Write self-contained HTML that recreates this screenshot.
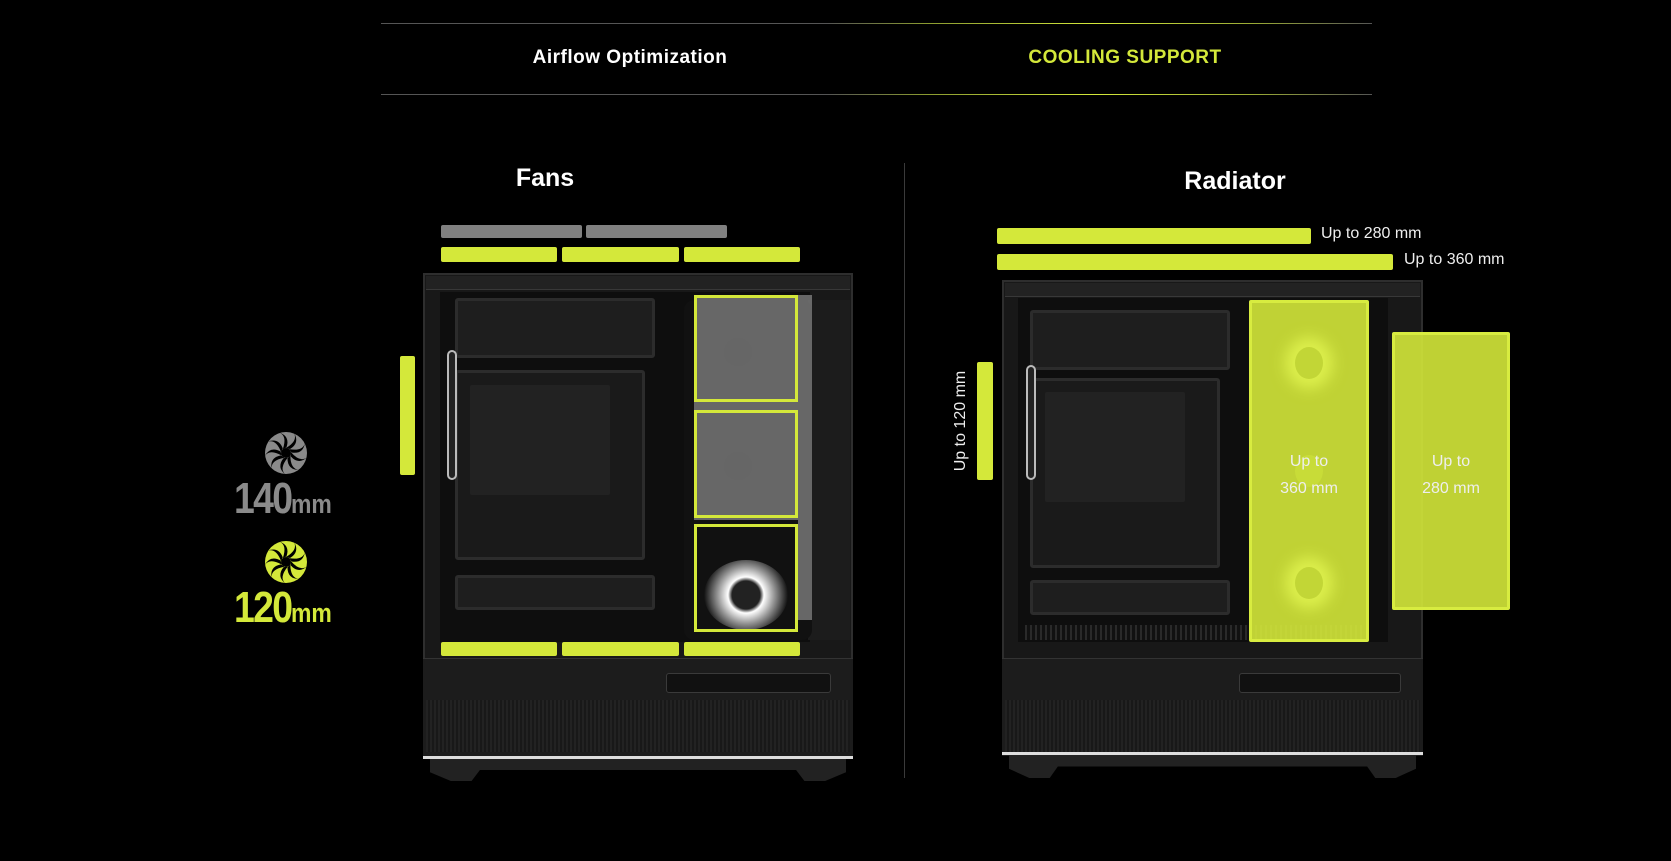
<!DOCTYPE html>
<html><head><meta charset="utf-8"><style>
*{margin:0;padding:0;box-sizing:border-box}
body{width:1671px;height:861px;background:#000;position:relative;overflow:hidden;font-family:"Liberation Sans",sans-serif}
.a{position:absolute}
.y{background:#d4e83a;border-radius:2px}
.g{background:#808080;border-radius:2px}
.t{color:#fff;font-weight:bold;text-align:center}
.case{position:absolute;background:#181818;border:2px solid #2e2e2e}
.int{position:absolute;background:#0e0e0e}
.pl{position:absolute;background:#1e1e1e;border:3px solid #2c2c2c;border-radius:3px}
.hole{position:absolute;background:#0c0c0c;border-radius:2px}
.lbl{color:#eee;font-size:15px;position:absolute;white-space:nowrap}
</style></head><body>
<div class="a" style="left:381px;top:23px;width:991px;height:1px;background:linear-gradient(90deg,#555 0%,#555 45%,#8a9a30 55%,#d4e83a 72%,#9aaa35 88%,#555 100%)"></div>
<div class="a" style="left:381px;top:94px;width:991px;height:1px;background:linear-gradient(90deg,#555 0%,#555 45%,#8a9a30 55%,#d4e83a 72%,#9aaa35 88%,#555 100%)"></div>
<div class="a t" style="left:480px;top:47px;width:300px;font-size:19px;letter-spacing:0.5px">Airflow Optimization</div>
<div class="a t" style="left:975px;top:47px;width:300px;font-size:19px;color:#d4e83a;letter-spacing:0.5px">COOLING SUPPORT</div>
<div class="a" style="left:904px;top:163px;width:1px;height:615px;background:#3a3a3a"></div>
<div class="a t" style="left:445px;top:164px;width:200px;font-size:25px">Fans</div>
<div class="a t" style="left:1135px;top:167px;width:200px;font-size:25px">Radiator</div>

<!-- LEFT CASE -->
<div class="case" style="left:423px;top:273px;width:430px;height:385px;border-bottom:none"></div>
<div class="a" style="left:426px;top:276px;width:424px;height:14px;background:#222;border-bottom:1px solid #383838"></div>
<div class="int" style="left:440px;top:292px;width:370px;height:350px"></div>
<div class="pl" style="left:455px;top:298px;width:200px;height:60px"></div>
<div class="pl" style="left:455px;top:370px;width:190px;height:190px;background:#1a1a1a"></div>
<div class="hole" style="left:470px;top:385px;width:140px;height:110px;background:#222"></div>
<div class="pl" style="left:455px;top:575px;width:200px;height:35px"></div>
<div class="a" style="left:447px;top:350px;width:10px;height:130px;border:2px solid #bbb;border-radius:6px;background:#222"></div>
<div class="a" style="left:808px;top:300px;width:42px;height:340px;background:#1c1c1c"></div>
<div class="a" style="left:684px;top:300px;width:128px;height:340px;background:#111;border-radius:10px"></div>
<div class="a" style="left:694px;top:295px;width:118px;height:325px;background:#777;opacity:.85"></div>
<div class="a" style="left:694px;top:520px;width:104px;height:112px;background:#111"></div>
<div class="a" style="left:704px;top:560px;width:84px;height:70px;border-radius:50%;background:radial-gradient(circle,#222 0 14px,#fff 18px,#999 28px,#111 42px)"></div>
<div class="a" style="left:724px;top:338px;width:28px;height:28px;border-radius:50%;background:#666"></div>
<div class="a" style="left:724px;top:452px;width:28px;height:28px;border-radius:50%;background:#666"></div>
<div class="a" style="left:694px;top:295px;width:104px;height:107px;border:3px solid #d4e83a"></div>
<div class="a" style="left:694px;top:410px;width:104px;height:108px;border:3px solid #d4e83a"></div>
<div class="a" style="left:694px;top:524px;width:104px;height:108px;border:3px solid #d4e83a"></div>
<div class="a" style="left:423px;top:658px;width:430px;height:98px;background:#1c1c1c;border-top:1px solid #333"></div>
<div class="a" style="left:426px;top:700px;width:424px;height:52px;background:repeating-linear-gradient(90deg,#222 0 2px,#181818 2px 4px)"></div>
<div class="a" style="left:666px;top:673px;width:165px;height:20px;background:#111;border:1px solid #3a3a3a;border-radius:3px"></div>
<div class="a" style="left:423px;top:756px;width:430px;height:3px;background:#ddd"></div>
<div class="a" style="left:430px;top:759px;width:416px;height:22px;background:#222;clip-path:polygon(0 0,100% 0,100% 60%,95% 100%,90% 100%,88% 50%,12% 50%,10% 100%,5% 100%,0 60%)"></div>
<div class="a y" style="left:441px;top:642px;width:116px;height:14px"></div>
<div class="a y" style="left:562px;top:642px;width:117px;height:14px"></div>
<div class="a y" style="left:684px;top:642px;width:116px;height:14px"></div>
<div class="a g" style="left:441px;top:225px;width:141px;height:13px"></div>
<div class="a g" style="left:586px;top:225px;width:141px;height:13px"></div>
<div class="a y" style="left:441px;top:247px;width:116px;height:15px"></div>
<div class="a y" style="left:562px;top:247px;width:117px;height:15px"></div>
<div class="a y" style="left:684px;top:247px;width:116px;height:15px"></div>
<div class="a y" style="left:400px;top:356px;width:15px;height:119px"></div>

<svg class="a" style="left:264px;top:431px" width="44" height="44" viewBox="-22 -22 44 44">
<circle r="21" fill="#8a8a8a"/><g fill="#000"><path d="M0 -5 Q12 -12 8 -20 Q14 -10 4 -4Z"/><path d="M0 -5 Q12 -12 8 -20 Q14 -10 4 -4Z" transform="rotate(40)"/><path d="M0 -5 Q12 -12 8 -20 Q14 -10 4 -4Z" transform="rotate(80)"/><path d="M0 -5 Q12 -12 8 -20 Q14 -10 4 -4Z" transform="rotate(120)"/><path d="M0 -5 Q12 -12 8 -20 Q14 -10 4 -4Z" transform="rotate(160)"/><path d="M0 -5 Q12 -12 8 -20 Q14 -10 4 -4Z" transform="rotate(200)"/><path d="M0 -5 Q12 -12 8 -20 Q14 -10 4 -4Z" transform="rotate(240)"/><path d="M0 -5 Q12 -12 8 -20 Q14 -10 4 -4Z" transform="rotate(280)"/><path d="M0 -5 Q12 -12 8 -20 Q14 -10 4 -4Z" transform="rotate(320)"/></g><circle r="5" fill="#000"/></svg>
<svg class="a" style="left:264px;top:540px" width="44" height="44" viewBox="-22 -22 44 44">
<circle r="21" fill="#d4e83a"/><g fill="#000"><path d="M0 -5 Q12 -12 8 -20 Q14 -10 4 -4Z"/><path d="M0 -5 Q12 -12 8 -20 Q14 -10 4 -4Z" transform="rotate(40)"/><path d="M0 -5 Q12 -12 8 -20 Q14 -10 4 -4Z" transform="rotate(80)"/><path d="M0 -5 Q12 -12 8 -20 Q14 -10 4 -4Z" transform="rotate(120)"/><path d="M0 -5 Q12 -12 8 -20 Q14 -10 4 -4Z" transform="rotate(160)"/><path d="M0 -5 Q12 -12 8 -20 Q14 -10 4 -4Z" transform="rotate(200)"/><path d="M0 -5 Q12 -12 8 -20 Q14 -10 4 -4Z" transform="rotate(240)"/><path d="M0 -5 Q12 -12 8 -20 Q14 -10 4 -4Z" transform="rotate(280)"/><path d="M0 -5 Q12 -12 8 -20 Q14 -10 4 -4Z" transform="rotate(320)"/></g><circle r="5" fill="#000"/></svg>
<div class="a" style="left:234px;top:474px;width:110px;color:#8a8a8a;font-weight:bold;white-space:nowrap"><span style="font-size:44px;letter-spacing:-2px;display:inline-block;transform:scaleX(.85);transform-origin:left">140</span><span style="font-size:27px;display:inline-block;transform:scaleX(.85);transform-origin:left;margin-left:-10px">mm</span></div>
<div class="a" style="left:234px;top:583px;width:110px;color:#d4e83a;font-weight:bold;white-space:nowrap"><span style="font-size:44px;letter-spacing:-2px;display:inline-block;transform:scaleX(.85);transform-origin:left">120</span><span style="font-size:27px;display:inline-block;transform:scaleX(.85);transform-origin:left;margin-left:-10px">mm</span></div>

<!-- RIGHT CASE -->
<div class="case" style="left:1002px;top:280px;width:421px;height:378px;border-bottom:none"></div>
<div class="a" style="left:1005px;top:283px;width:415px;height:14px;background:#222;border-bottom:1px solid #383838"></div>
<div class="int" style="left:1018px;top:298px;width:370px;height:344px"></div>
<div class="pl" style="left:1030px;top:310px;width:200px;height:60px"></div>
<div class="pl" style="left:1030px;top:378px;width:190px;height:190px;background:#1a1a1a"></div>
<div class="hole" style="left:1045px;top:392px;width:140px;height:110px;background:#222"></div>
<div class="pl" style="left:1030px;top:580px;width:200px;height:35px"></div>
<div class="a" style="left:1026px;top:365px;width:10px;height:115px;border:2px solid #bbb;border-radius:6px;background:#222"></div>
<div class="a" style="left:1025px;top:625px;width:340px;height:15px;background:repeating-linear-gradient(90deg,#2a2a2a 0 2px,#111 2px 5px)"></div>
<div class="a" style="left:1002px;top:658px;width:421px;height:98px;background:#1c1c1c;border-top:1px solid #333"></div>
<div class="a" style="left:1005px;top:700px;width:415px;height:52px;background:repeating-linear-gradient(90deg,#222 0 2px,#181818 2px 4px)"></div>
<div class="a" style="left:1239px;top:673px;width:162px;height:20px;background:#111;border:1px solid #3a3a3a;border-radius:3px"></div>
<div class="a" style="left:1002px;top:752px;width:421px;height:3px;background:#ddd"></div>
<div class="a" style="left:1009px;top:755px;width:407px;height:23px;background:#222;clip-path:polygon(0 0,100% 0,100% 60%,95% 100%,90% 100%,88% 50%,12% 50%,10% 100%,5% 100%,0 60%)"></div>
<div class="a" style="left:1249px;top:300px;width:120px;height:342px;background:rgba(212,232,58,.9);border:3px solid #d8ec40;border-radius:2px"></div>
<div class="a" style="left:1295px;top:347px;width:28px;height:32px;border-radius:50%;background:#c2d636;box-shadow:0 0 14px 10px #dcef4c"></div>
<div class="a" style="left:1295px;top:455px;width:28px;height:32px;border-radius:50%;background:#c8dc38"></div>
<div class="a" style="left:1295px;top:567px;width:28px;height:32px;border-radius:50%;background:#c2d636;box-shadow:0 0 14px 10px #dcef4c"></div>
<div class="a" style="left:1392px;top:332px;width:118px;height:278px;background:rgba(212,232,58,.9);border:3px solid #d8ec40;border-radius:2px"></div>
<div class="lbl" style="left:1249px;top:448px;width:120px;text-align:center;line-height:27px;font-size:16px">Up to<br>360 mm</div>
<div class="lbl" style="left:1392px;top:448px;width:118px;text-align:center;line-height:27px;font-size:16px">Up to<br>280 mm</div>
<div class="a y" style="left:997px;top:228px;width:314px;height:16px"></div>
<div class="lbl" style="left:1321px;top:225px;font-size:16px">Up to 280 mm</div>
<div class="a y" style="left:997px;top:254px;width:396px;height:16px"></div>
<div class="lbl" style="left:1404px;top:251px;font-size:16px">Up to 360 mm</div>
<div class="a y" style="left:977px;top:362px;width:16px;height:118px"></div>
<div class="lbl" style="left:900px;top:412px;width:122px;text-align:center;transform:rotate(-90deg);font-size:16px">Up to 120 mm</div>
</body></html>
